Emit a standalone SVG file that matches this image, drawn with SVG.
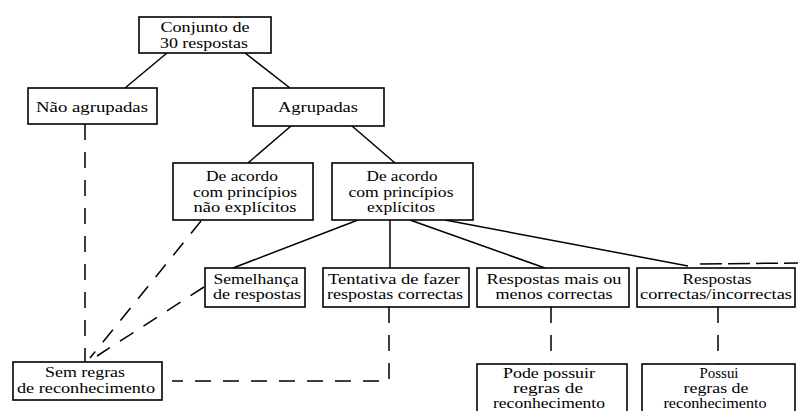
<svg xmlns="http://www.w3.org/2000/svg" width="798" height="411" viewBox="0 0 798 411">
<style>
.box{fill:#fff;stroke:#000;stroke-width:1.6}
.t{font-family:"Liberation Serif","Times New Roman",serif;font-size:14px;fill:#000;text-anchor:middle}
.c{stroke:#000;stroke-width:1.5;fill:none}
.d{stroke:#000;stroke-width:1.5;fill:none;stroke-dasharray:16,12}
</style>
<rect width="798" height="411" fill="#fff"/>
<g id="connectors">
<line class="c" x1="167" y1="53" x2="125" y2="88"/>
<line class="c" x1="245" y1="53" x2="290" y2="88"/>
<line class="c" x1="291" y1="126" x2="248" y2="163"/>
<line class="c" x1="352" y1="126" x2="395" y2="163"/>
<line class="c" x1="358" y1="220" x2="233" y2="268"/>
<line class="c" x1="390" y1="220" x2="390" y2="268"/>
<line class="c" x1="410" y1="220" x2="545" y2="268"/>
<line class="c" x1="445" y1="220" x2="688" y2="266"/>
<line class="d" x1="700" y1="264" x2="798" y2="263" style="stroke-dasharray:22,6"/>
<line class="d" x1="85" y1="124" x2="85" y2="362"/>
<line class="d" x1="201" y1="221" x2="90" y2="358"/>
<line class="d" x1="204" y1="287" x2="97" y2="356"/>
<polyline class="d" points="389,307 389,381 172,381"/>
<line class="d" x1="551" y1="307" x2="551" y2="364"/>
<line class="d" x1="718" y1="307" x2="718" y2="364"/>
</g>
<g id="conjunto">
<rect class="box" x="139" y="17" width="132" height="36"/>
<text class="t" x="205" y="32" textLength="89" lengthAdjust="spacingAndGlyphs">Conjunto de</text>
<text class="t" x="204" y="48" textLength="88" lengthAdjust="spacingAndGlyphs">30 respostas</text>
</g>
<g id="nao-agrupadas">
<rect class="box" x="28" y="88" width="129" height="36"/>
<text class="t" x="92" y="112" textLength="112" lengthAdjust="spacingAndGlyphs">Não agrupadas</text>
</g>
<g id="agrupadas">
<rect class="box" x="253" y="88" width="131" height="38"/>
<text class="t" x="318" y="112" textLength="80" lengthAdjust="spacingAndGlyphs">Agrupadas</text>
</g>
<g id="nao-explicitos">
<rect class="box" x="173" y="163" width="140" height="57"/>
<text class="t" x="242" y="181" textLength="72" lengthAdjust="spacingAndGlyphs">De acordo</text>
<text class="t" x="245" y="197" textLength="104" lengthAdjust="spacingAndGlyphs">com princípios</text>
<text class="t" x="245" y="212" textLength="103" lengthAdjust="spacingAndGlyphs">não explícitos</text>
</g>
<g id="explicitos">
<rect class="box" x="332" y="163" width="141" height="57"/>
<text class="t" x="402" y="181" textLength="71" lengthAdjust="spacingAndGlyphs">De acordo</text>
<text class="t" x="401" y="197" textLength="105" lengthAdjust="spacingAndGlyphs">com princípios</text>
<text class="t" x="401" y="212" textLength="68" lengthAdjust="spacingAndGlyphs">explícitos</text>
</g>
<g id="semelhanca">
<rect class="box" x="205" y="268" width="100" height="39"/>
<text class="t" x="256" y="284" textLength="85" lengthAdjust="spacingAndGlyphs">Semelhança</text>
<text class="t" x="257" y="299" textLength="88" lengthAdjust="spacingAndGlyphs">de respostas</text>
</g>
<g id="tentativa">
<rect class="box" x="323" y="268" width="146" height="39"/>
<text class="t" x="394" y="284" textLength="132" lengthAdjust="spacingAndGlyphs">Tentativa de fazer</text>
<text class="t" x="395" y="299" textLength="136" lengthAdjust="spacingAndGlyphs">respostas correctas</text>
</g>
<g id="mais-ou-menos">
<rect class="box" x="477" y="268" width="152" height="39"/>
<text class="t" x="554" y="284" textLength="135" lengthAdjust="spacingAndGlyphs">Respostas mais ou</text>
<text class="t" x="554" y="299" textLength="117" lengthAdjust="spacingAndGlyphs">menos correctas</text>
</g>
<g id="correctas-incorrectas">
<rect class="box" x="637" y="268" width="158" height="39"/>
<text class="t" x="717" y="284" textLength="69" lengthAdjust="spacingAndGlyphs">Respostas</text>
<text class="t" x="716" y="299" textLength="152" lengthAdjust="spacingAndGlyphs">correctas/incorrectas</text>
</g>
<g id="sem-regras">
<rect class="box" x="13" y="362" width="149" height="38"/>
<text class="t" x="85" y="377" textLength="80" lengthAdjust="spacingAndGlyphs">Sem regras</text>
<text class="t" x="86" y="393" textLength="138" lengthAdjust="spacingAndGlyphs">de reconhecimento</text>
</g>
<g id="pode-possuir">
<rect class="box" x="477" y="364" width="150" height="60"/>
<text class="t" x="549" y="378" textLength="92" lengthAdjust="spacingAndGlyphs">Pode possuir</text>
<text class="t" x="548" y="393" textLength="70" lengthAdjust="spacingAndGlyphs">regras de</text>
<text class="t" x="549" y="408" textLength="112" lengthAdjust="spacingAndGlyphs">reconhecimento</text>
</g>
<g id="possui">
<rect class="box" x="642" y="364" width="153" height="60"/>
<text class="t" x="719" y="378" textLength="39" lengthAdjust="spacingAndGlyphs">Possui</text>
<text class="t" x="716" y="393" textLength="65" lengthAdjust="spacingAndGlyphs">regras de</text>
<text class="t" x="715" y="408" textLength="103" lengthAdjust="spacingAndGlyphs">reconhecimento</text>
</g>
</svg>
